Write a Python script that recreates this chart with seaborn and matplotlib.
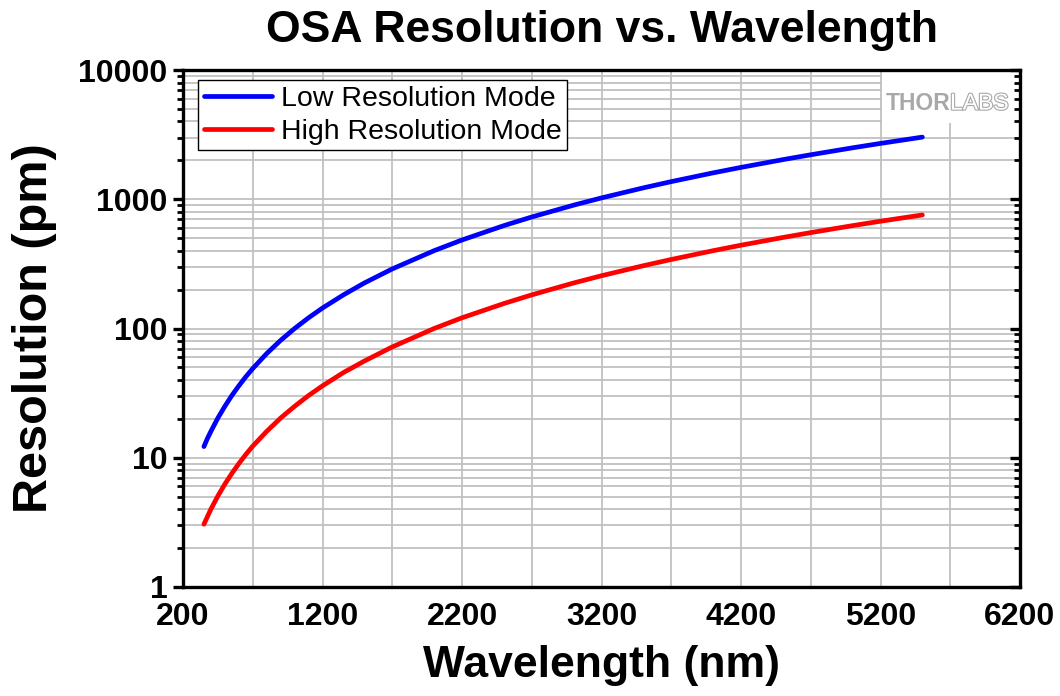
import matplotlib
matplotlib.use("Agg")
import matplotlib.pyplot as plt
import matplotlib.ticker as mticker
import matplotlib.patheffects as pe
from matplotlib.patches import Rectangle
import numpy as np
import pandas as pd
import seaborn as sns

# ---- data ----
wavelength_nm = [350, 375, 400, 450, 500, 550, 600, 650, 700, 800, 900, 1000, 1100, 1200,
                 1350, 1500, 1700, 2000, 2200, 2500, 2700, 3000, 3200, 3500, 3700,
                 4000, 4200, 4500, 4700, 5000, 5200, 5500]
low_res_pm = [12.2, 14.1, 16, 20.3, 25, 30.3, 36, 42.3, 49, 64, 81, 100, 121, 144,
              182, 225, 289, 400, 484, 625, 729, 900, 1024, 1225, 1369,
              1600, 1764, 2025, 2209, 2500, 2704, 3025]
high_res_pm = [3.06, 3.5, 4, 5.06, 6.25, 7.56, 9, 10.6, 12.3, 16, 20.3, 25, 30.3, 36,
               45.6, 56, 72, 100, 121, 156, 182, 225, 256, 306, 342,
               400, 441, 506, 552, 625, 676, 756]
series_names = ["Low Resolution Mode", "High Resolution Mode"]
series_colors = ["#0000ff", "#ff0000"]
x_ticks = [200, 1200, 2200, 3200, 4200, 5200, 6200]
y_ticks = [1, 10, 100, 1000, 10000]

df = pd.concat([
    pd.DataFrame({"Wavelength": wavelength_nm, "Resolution": low_res_pm, "Mode": series_names[0]}),
    pd.DataFrame({"Wavelength": wavelength_nm, "Resolution": high_res_pm, "Mode": series_names[1]}),
], ignore_index=True)

sns.set_theme(style="white")
plt.rcParams["font.family"] = ["Liberation Sans", "DejaVu Sans"]
plt.rcParams["text.color"] = "black"
plt.rcParams["axes.labelcolor"] = "black"
plt.rcParams["xtick.color"] = "black"
plt.rcParams["ytick.color"] = "black"

fig = plt.figure(figsize=(10.6, 6.96), dpi=100)
ax = fig.add_axes([183/1060, 1-587/696, (1020-183)/1060, (587-70)/696])

sns.lineplot(data=df, x="Wavelength", y="Resolution", hue="Mode",
             palette=dict(zip(series_names, series_colors)), hue_order=series_names,
             linewidth=3.4, ax=ax, sort=True, zorder=3, solid_capstyle="round",
             solid_joinstyle="round")

ax.set_yscale("log")
ax.set_xlim(200, 6200)
ax.set_ylim(1, 10000)

ax.set_xticks(x_ticks)
ax.xaxis.set_minor_locator(mticker.FixedLocator([700 + 1000*i for i in range(6)]))
ax.set_yticks(y_ticks)
ax.set_yticklabels([str(v) for v in y_ticks])
ax.yaxis.set_minor_locator(mticker.LogLocator(base=10, subs=np.arange(2, 10)))
ax.yaxis.set_minor_formatter(mticker.NullFormatter())

ax.grid(True, which="both", color="#c0c0c0", linewidth=1.3, zorder=0)
ax.set_axisbelow(True)

for s in ax.spines.values():
    s.set_color("black")
    s.set_linewidth(2.4)
    s.set_visible(True)
    s.set_zorder(10)

ax.tick_params(axis="both", which="major", direction="out", length=7, width=2.4,
               color="black", labelsize=23, pad=4, labelcolor="black")
ax.tick_params(axis="both", which="minor", direction="out", length=4, width=2.0, color="black")
for lab in ax.get_xticklabels() + ax.get_yticklabels():
    lab.set_fontweight("bold")

# inward ticks on the right side
axr = ax.twinx()
axr.set_yscale("log")
axr.set_ylim(ax.get_ylim())
axr.set_yticks(y_ticks)
axr.yaxis.set_minor_locator(mticker.LogLocator(base=10, subs=np.arange(2, 10)))
axr.yaxis.set_minor_formatter(mticker.NullFormatter())
axr.tick_params(axis="y", which="major", direction="in", length=7, width=2.4,
                labelright=False, color="black")
axr.tick_params(axis="y", which="minor", direction="in", length=4, width=2.0, color="black")
axr.grid(False)
for s in axr.spines.values():
    s.set_visible(False)

ax.set_title("OSA Resolution vs. Wavelength", fontsize=32, fontweight="bold", pad=20,
             color="black")
ax.set_xlabel("Wavelength (nm)", fontsize=32, fontweight="bold")
ax.set_ylabel("Resolution (pm)", fontsize=35, fontweight="bold")
ax.xaxis.set_label_coords(0.5, -0.151)
ax.xaxis.label.set_va("center")
ax.yaxis.set_label_coords(-0.177, 0.5)
ax.yaxis.label.set_va("center")

leg = ax.legend(loc="upper left", bbox_to_anchor=(0.018, 0.981), fontsize=20.5,
                frameon=True, fancybox=False, edgecolor="black", framealpha=1,
                handlelength=2.4, handletextpad=0.3, borderpad=0.2, labelspacing=0.25,
                borderaxespad=0)
leg.get_frame().set_linewidth(1.0)
leg.set_zorder(8)
for h in leg.get_lines():
    h.set_linewidth(3.4)
for t in leg.get_texts():
    t.set_color("black")

# watermark
ax.add_patch(Rectangle(((882-183)/837, (587-123)/517), (1017-882)/837, (123-71)/517,
                       transform=ax.transAxes, facecolor="white", edgecolor="none", zorder=4))
ax.text(0.9164, 0.936, "THOR", transform=ax.transAxes, ha="right", va="center",
        fontsize=16.5, fontweight="bold", color="#a8a8a8", zorder=5)
ax.text(0.9164, 0.936, "LABS", transform=ax.transAxes, ha="left", va="center",
        fontsize=16.5, color="white", zorder=6,
        path_effects=[pe.withStroke(linewidth=1.6, foreground="#a8a8a8")])

fig.savefig("out.png", dpi=100)
